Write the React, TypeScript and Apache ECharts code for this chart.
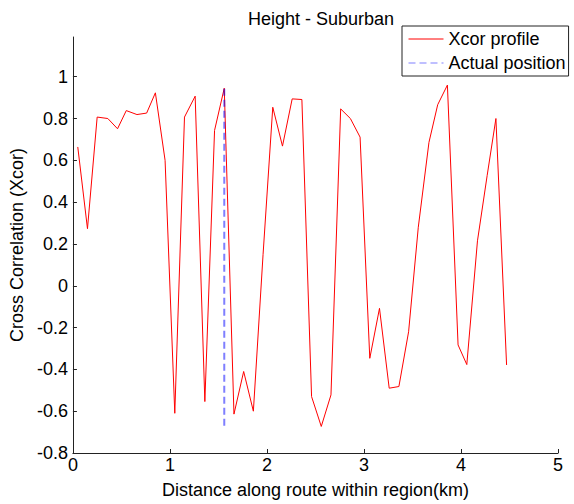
import React, { useEffect, useRef } from "react";
import * as echarts from "echarts";

const distanceKm = [
  0.05, 0.15, 0.25, 0.36, 0.46, 0.55, 0.66, 0.76, 0.85, 0.95,
  1.05, 1.15, 1.26, 1.36, 1.46, 1.56, 1.66, 1.76, 1.86, 1.96,
  2.06, 2.16, 2.26, 2.36, 2.46, 2.56, 2.66, 2.76, 2.86, 2.96,
  3.06, 3.16, 3.26, 3.36, 3.46, 3.56, 3.67, 3.76, 3.86, 3.97,
  4.06, 4.17, 4.27, 4.36, 4.47,
];
const xcorProfile = [
  0.664, 0.273, 0.807, 0.8, 0.751, 0.838, 0.819, 0.826, 0.923, 0.6,
  -0.61, 0.807, 0.907, -0.554, 0.743, 0.945, -0.614, -0.41, -0.6, 0.15,
  0.854, 0.668, 0.894, 0.891, -0.53, -0.673, -0.522, 0.846, 0.8, 0.711,
  -0.347, -0.108, -0.49, -0.482, -0.22, 0.28, 0.686, 0.866, 0.96, -0.283,
  -0.377, 0.215, 0.528, 0.8, -0.379,
];
const actualPositionX = [1.56, 1.56];
const actualPositionY = [-0.67, 0.96];
const yTickValues = [-0.8, -0.6, -0.4, -0.2, 0, 0.2, 0.4, 0.6, 0.8, 1];
const xTickValues = [0, 1, 2, 3, 4, 5];

const FONT = "'Liberation Sans', Arial, sans-serif";
const FS = 18;

export default function App() {
  const ref = useRef<HTMLDivElement>(null);
  useEffect(() => {
    document.body.style.margin = "0";
    if (!ref.current) return;
    const chart = echarts.init(ref.current, null, { renderer: "svg" });
    const profileData = distanceKm.map((x, i) => [x, xcorProfile[i]]);
    const actualData = actualPositionX.map((x, i) => [x, actualPositionY[i]]);
    chart.setOption({
      animation: false,
      backgroundColor: "#fff",
      textStyle: { fontFamily: FONT },
      title: {
        text: "Height - Suburban",
        left: 316,
        textAlign: "center",
        top: 5,
        textStyle: { fontFamily: FONT, fontSize: FS, fontWeight: "normal", color: "#000" },
      },
      legend: {
        orient: "vertical",
        left: 402,
        top: 26,
        padding: [4, 3, 4, 6],
        itemGap: 6,
        itemWidth: 35,
        itemHeight: 14,
        borderColor: "#222",
        borderWidth: 1,
        borderRadius: 0,
        backgroundColor: "#fff",
        selectedMode: false,
        itemStyle: { opacity: 0 },
        lineStyle: { width: 1 },
        data: ["Xcor profile", "Actual position"],
        textStyle: { fontFamily: FONT, fontSize: FS, color: "#000" },
      },
      grid: { left: 68, right: 16, top: 37, bottom: 48, containLabel: false },
      xAxis: {
        type: "value",
        min: 0,
        max: 5,
        interval: 1,
        name: "Distance along route within region(km)",
        nameLocation: "middle",
        nameGap: 28,
        nameTextStyle: { fontFamily: FONT, fontSize: FS, color: "#000" },
        axisLine: { show: true, onZero: false, lineStyle: { color: "#222", width: 1 } },
        axisTick: { show: true, inside: true, length: 4, lineStyle: { color: "#222" }, customValues: xTickValues },
        axisLabel: { fontFamily: FONT, fontSize: FS, color: "#000", margin: 3, customValues: xTickValues },
        splitLine: { show: false },
      },
      yAxis: {
        type: "value",
        min: -0.8,
        max: 1.19,
        name: "Cross Correlation (Xcor)",
        nameLocation: "middle",
        nameGap: 42,
        nameTextStyle: { fontFamily: FONT, fontSize: FS, color: "#000" },
        axisLine: { show: true, onZero: false, lineStyle: { color: "#222", width: 1 } },
        axisTick: { show: true, inside: true, length: 4, lineStyle: { color: "#222" }, customValues: yTickValues },
        axisLabel: {
          fontFamily: FONT,
          fontSize: FS,
          color: "#000",
          margin: 5,
          customValues: yTickValues,
          formatter: (v: number) => String(Math.round(v * 10) / 10),
        },
        splitLine: { show: false },
      },
      series: [
        {
          name: "Xcor profile",
          type: "line",
          data: profileData,
          symbol: "none",
          lineStyle: { color: "#ff0000", width: 1 },
          itemStyle: { color: "#ff0000" },
        },
        {
          name: "Actual position",
          type: "line",
          data: actualData,
          symbol: "none",
          lineStyle: { color: "rgba(0,0,255,0.5)", width: 2, type: [7, 4] },
          itemStyle: { color: "rgba(0,0,255,0.5)" },
        },
      ],
    });
    return () => chart.dispose();
  }, []);
  return <div ref={ref} style={{ width: 574, height: 504 }} />;
}
